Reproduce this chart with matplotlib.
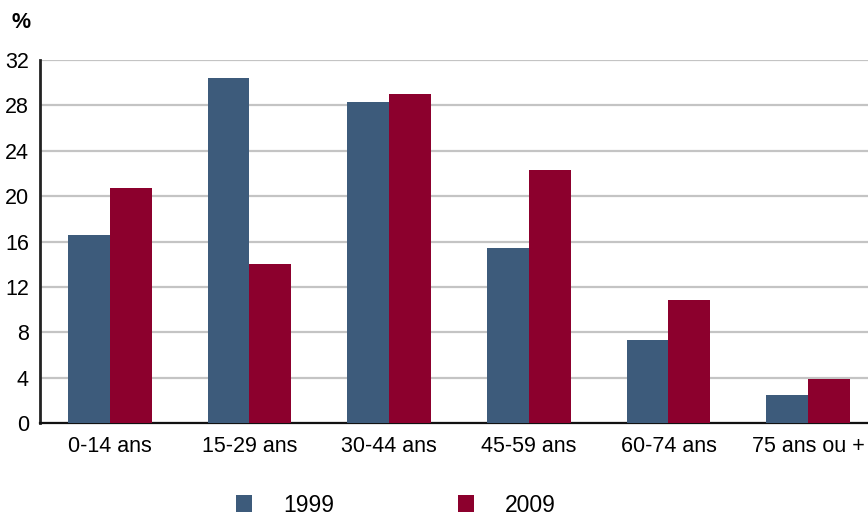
import matplotlib
matplotlib.use("Agg")
import matplotlib.pyplot as plt
import numpy as np

plt.rcParams["font.family"] = ["Liberation Sans", "DejaVu Sans"]

# Colors
color_1999 = "#3d5b7b"
color_2009 = "#8c002d"

# Age groups and shares (%)
ages = ["0-14 ans", "15-29 ans", "30-44 ans", "45-59 ans", "60-74 ans", "75 ans ou +"]
share_1999 = [16.6, 30.4, 28.3, 15.4, 7.3, 2.5]
share_2009 = [20.7, 14.0, 29.0, 22.3, 10.8, 3.9]

fig = plt.figure(figsize=(8.68, 5.15), dpi=100)
ax = fig.add_axes([40 / 868, 92 / 515, 838 / 868, 363 / 515])

x = np.arange(len(ages))
w = 0.3
b1 = ax.bar(x - w / 2, share_1999, w, color=color_1999, label="1999", zorder=3)
b2 = ax.bar(x + w / 2, share_2009, w, color=color_2009, label="2009", zorder=3)

ax.set_xlim(-0.5, len(ages) - 0.5)
ax.set_ylim(0, 32)
ax.set_yticks(range(0, 33, 4))
ax.set_xticks(x)
ax.set_xticklabels(ages, fontsize=15.5)
ax.tick_params(axis="y", length=0, labelsize=15.5, pad=8)
ax.tick_params(axis="x", length=0, pad=9)
ax.yaxis.grid(True, color="#c4c4c4", linewidth=1.6, zorder=0)
ax.set_axisbelow(True)

for side in ["top", "right"]:
    ax.spines[side].set_visible(False)
ax.spines["left"].set_linewidth(2)
ax.spines["left"].set_color("#222222")
ax.spines["bottom"].set_linewidth(1.6)
ax.spines["bottom"].set_color("#111111")

fig.text(12 / 868, 1 - 22 / 515, "%", fontsize=15.5, fontweight="bold", va="center")

fig.legend(handles=[b1, b2], loc="center", bbox_to_anchor=(396 / 868, 1 - 505 / 515),
           ncol=2, frameon=False, fontsize=16.5, handlelength=0.7, handleheight=0.7,
           handletextpad=1.35, columnspacing=5.4)

fig.savefig("out.png", dpi=100)
